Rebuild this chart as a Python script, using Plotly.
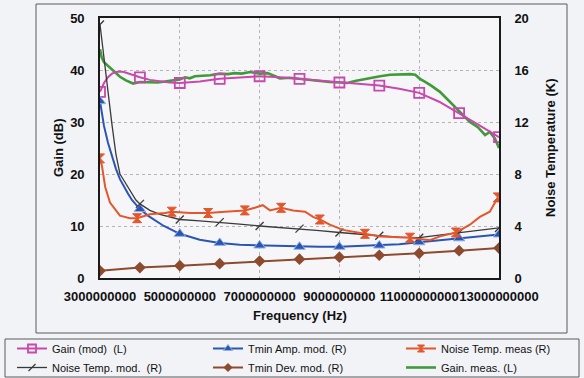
import plotly.graph_objects as go

# ---------------- data (frequency in GHz, converted to Hz for plotting) ----------------
x_tick_vals_ghz = [3, 5, 7, 9, 11, 13]
x_tick_labels = ["3000000000", "5000000000", "7000000000", "9000000000", "11000000000", "13000000000"]

model_marker_f = [3, 4, 5, 6, 7, 8, 9, 10, 11, 12, 13]

# Gain (mod) (L)
gain_mod_f = [3.0, 3.1, 3.2, 3.3, 3.4, 3.5, 3.6, 3.75, 4.0, 4.25, 4.5, 4.75, 5.0, 5.5, 6.0, 6.5,
              7.0, 7.5, 8.0, 8.5, 9.0, 9.5, 10.0, 10.5, 11.0, 11.5, 12.0, 12.5, 13.0]
gain_mod_v = [35.8, 37.5, 38.6, 39.3, 39.6, 39.7, 39.6, 39.2, 38.6, 38.1, 37.8, 37.6, 37.5, 37.8, 38.3, 38.5,
              38.8, 38.6, 38.3, 38.0, 37.6, 37.3, 37.0, 36.4, 35.6, 33.9, 31.7, 29.4, 27.1]

# Gain. meas. (L)
gain_meas_f = [3.0, 3.04, 3.1, 3.25, 3.4, 3.5, 3.65, 3.83, 4.0, 4.25, 4.45, 4.63, 4.88, 5.0, 5.13, 5.25,
               5.38, 5.55, 5.76, 6.0, 6.2, 6.38, 6.55, 6.76, 7.0, 7.2, 7.35, 7.51, 7.75, 8.01, 8.25,
               8.51, 8.75, 9.02, 9.2, 9.39, 9.52, 9.75, 10.02, 10.27, 10.5, 10.77, 10.9, 11.02, 11.15,
               11.3, 11.52, 11.77, 12.02, 12.27, 12.47, 12.65, 12.77, 12.9, 13.0]
gain_meas_v = [44.0, 42.5, 41.5, 40.4, 39.4, 38.7, 38.0, 37.4, 37.7, 37.6, 37.6, 37.8, 38.0, 38.2, 38.6, 38.4,
               38.8, 38.9, 39.0, 39.3, 39.2, 39.4, 39.3, 39.6, 39.3, 39.4, 38.9, 38.4, 38.5, 38.3, 38.0,
               37.9, 37.7, 37.6, 37.5, 37.9, 38.1, 38.5, 38.8, 39.1, 39.2, 39.2, 39.1, 38.3, 37.7,
               37.0, 35.8, 33.8, 31.8, 30.0, 29.0, 27.5, 28.1, 26.8, 25.0]

# Noise Temp. meas (R)
noise_meas_f = [3.0, 3.05, 3.13, 3.25, 3.5, 3.75, 3.93, 4.25, 4.63, 4.8, 5.26, 5.71, 6.13, 6.63, 6.88,
                7.08, 7.26, 7.54, 7.84, 8.14, 8.34, 8.51, 8.76, 9.09, 9.64, 10.02, 10.77, 11.27, 11.52,
                11.92, 12.27, 12.52, 12.77, 12.97]
noise_meas_v = [9.2, 8.6, 7.0, 5.8, 4.8, 4.6, 4.6, 4.9, 5.0, 5.1, 5.0, 5.0, 5.1, 5.2, 5.4,
                5.6, 5.2, 5.4, 5.2, 5.1, 4.7, 4.5, 4.1, 3.7, 3.4, 3.2, 3.1, 2.9, 3.2,
                3.5, 4.1, 4.7, 5.1, 6.2]
noise_meas_marker_f = [3.0, 3.93, 4.8, 5.71, 6.63, 7.54, 8.51, 9.64, 10.77, 11.92, 12.97]

# Noise Temp. mod. (R)
noise_mod_f = [3.0, 3.1, 3.2, 3.3, 3.4, 3.5, 3.6, 3.7, 3.8, 3.9, 4.0, 4.25, 4.5, 5.0, 5.5, 6.0, 6.5,
               7.0, 7.5, 8.0, 8.5, 9.0, 9.5, 10.0, 10.5, 11.0, 11.5, 12.0, 12.5, 13.0]
noise_mod_v = [19.5, 16.8, 14.2, 11.8, 9.5, 8.0, 7.5, 7.0, 6.5, 6.0, 5.7, 5.2, 4.9, 4.5, 4.4, 4.3, 4.15,
               4.0, 3.9, 3.8, 3.65, 3.5, 3.35, 3.25, 3.15, 3.1, 3.3, 3.5, 3.65, 3.85]

# Tmin Amp. mod. (R)
tmin_amp_f = [3.0, 3.1, 3.2, 3.3, 3.4, 3.5, 3.6, 3.7, 3.8, 4.0, 4.2, 4.4, 4.6, 4.8, 5.0, 5.5, 6.0,
              6.5, 7.0, 7.5, 8.0, 8.5, 9.0, 9.5, 10.0, 10.5, 11.0, 11.5, 12.0, 12.5, 13.0]
tmin_amp_v = [13.6, 11.7, 10.4, 9.3, 8.4, 7.6, 7.0, 6.5, 6.0, 5.3, 4.8, 4.4, 4.0, 3.7, 3.4, 2.95, 2.7,
              2.55, 2.5, 2.45, 2.4, 2.4, 2.4, 2.45, 2.5, 2.6, 2.75, 2.9, 3.05, 3.2, 3.35]

# Tmin Dev. mod. (R)
tmin_dev_f = [3, 4, 5, 6, 7, 8, 9, 10, 11, 12, 13]
tmin_dev_v = [0.55, 0.8, 0.95, 1.1, 1.3, 1.45, 1.6, 1.75, 1.9, 2.1, 2.3]

# ---------------- figure ----------------
FONT = "Liberation Sans, Arial, sans-serif"
fig = go.Figure()


def hz(lst):
    return [f * 1e9 for f in lst]


def add_series(f, v, mark_f, color, lw, yaxis, marker):
    fig.add_trace(go.Scatter(x=hz(f), y=v, mode="lines", yaxis=yaxis,
                             line=dict(color=color, width=lw), showlegend=False, hoverinfo="skip"))
    if mark_f:
        sel = [i for i, fi in enumerate(f) if any(abs(fi - m) < 1e-6 for m in mark_f)]
        fig.add_trace(go.Scatter(x=hz([f[i] for i in sel]), y=[v[i] for i in sel], mode="markers",
                                 yaxis=yaxis, marker=marker, showlegend=False, hoverinfo="skip"))


C_PINK = "#c848ac"
C_GREEN = "#3f9a3a"
C_BLUE = "#2b55b3"
C_ORANGE = "#e2572c"
C_BLACK = "#3a3a3a"
C_BROWN = "#8c4b2e"


def mk_pink(s):
    return dict(symbol="square-open", size=s, color=C_PINK, line=dict(color=C_PINK, width=1.8))


def mk_blue(s):
    return dict(symbol="triangle-up", size=s, color=C_BLUE, line=dict(color="#8fb0e8", width=1))


def mk_orange(s):
    return dict(symbol="hourglass", size=s, color=C_ORANGE, line=dict(color=C_ORANGE, width=1))


def mk_black(s):
    return dict(symbol="line-ne", size=s, color=C_BLACK, line=dict(color=C_BLACK, width=1.3))


def mk_brown(s):
    return dict(symbol="diamond", size=s, color=C_BROWN, line=dict(color=C_BROWN, width=0))


add_series(gain_meas_f, gain_meas_v, None, C_GREEN, 2.6, "y", None)
add_series(gain_mod_f, gain_mod_v, model_marker_f, C_PINK, 2, "y", mk_pink(10))
add_series(tmin_dev_f, tmin_dev_v, model_marker_f, C_BROWN, 2, "y2", mk_brown(9))
add_series(tmin_amp_f, tmin_amp_v, model_marker_f, C_BLUE, 2, "y2", mk_blue(10))
add_series(noise_mod_f, noise_mod_v, model_marker_f, C_BLACK, 1.3, "y2", mk_black(8))
add_series(noise_meas_f, noise_meas_v, noise_meas_marker_f, C_ORANGE, 2, "y2", mk_orange(9))

# legend entries (style samples only)
legend_entries = [
    ("Gain (mod)  (L)", C_PINK, 2, mk_pink(8), "legend"),
    ("Noise Temp. mod.  (R)", C_BLACK, 1.3, mk_black(7), "legend"),
    ("Tmin Amp. mod. (R)", C_BLUE, 2, mk_blue(8), "legend2"),
    ("Tmin Dev. mod. (R)", C_BROWN, 2, mk_brown(7), "legend2"),
    ("Noise Temp. meas (R)", C_ORANGE, 2, mk_orange(7), "legend3"),
    ("Gain. meas. (L)", C_GREEN, 2.6, None, "legend3"),
]
for name, col, lw, mk, lg in legend_entries:
    fig.add_trace(go.Scatter(x=[None], y=[None], name=name, legend=lg,
                             mode="lines+markers" if mk else "lines",
                             line=dict(color=col, width=lw), marker=mk if mk else None))

# geometry helpers (plot area 100..499 x 18..278 px)
L, R, T, B = 100, 499, 18, 278
W, H = R - L, B - T


def px(xp):
    return (xp - L) / W


def py(yp):
    return (B - yp) / H


tickfont = dict(family=FONT, size=13, color="#111", weight="bold")
grid = dict(showgrid=True, gridcolor="#b4b4b8", griddash="dot", gridwidth=1)
leg_common = dict(yanchor="top", xanchor="left", bgcolor="rgba(0,0,0,0)",
                  font=dict(size=11), tracegroupgap=0, itemwidth=30)

fig.update_layout(
    width=584, height=378,
    margin=dict(l=L, r=584 - R, t=T, b=378 - B, autoexpand=False),
    paper_bgcolor="#f2f3f7", plot_bgcolor="#f6f6f9",
    font=dict(family=FONT, size=11, color="#111"),
    xaxis=dict(range=[3e9, 13e9], tickvals=hz(x_tick_vals_ghz), ticktext=x_tick_labels, tickangle=0,
               showline=True, linecolor="#1a1a1a", linewidth=1.6, mirror=True, ticks="",
               tickfont=tickfont, ticklabelstandoff=6, zeroline=False, **grid),
    yaxis=dict(range=[0, 50], tickvals=[0, 10, 20, 30, 40, 50], showline=True, linecolor="#1a1a1a",
               linewidth=1.6, mirror=True, ticks="", tickfont=tickfont, ticklabelstandoff=11,
               zeroline=False, **grid),
    yaxis2=dict(range=[0, 20], tickvals=[0, 4, 8, 12, 16, 20], overlaying="y", side="right",
                showgrid=False, showline=True, linecolor="#1a1a1a", linewidth=1.6, ticks="",
                tickfont=tickfont, ticklabelstandoff=11, zeroline=False),
    legend=dict(x=px(12), y=py(334), **leg_common),
    legend2=dict(x=px(208), y=py(334), **leg_common),
    legend3=dict(x=px(401), y=py(334), **leg_common),
    shapes=[
        dict(type="rect", xref="paper", yref="paper", x0=px(36), x1=px(567), y0=py(333), y1=py(4),
             line=dict(color="#5a5a5a", width=1), layer="below"),
        dict(type="rect", xref="paper", yref="paper", x0=px(5), x1=px(579), y0=py(377), y1=py(339),
             line=dict(color="#5a5a5a", width=1), layer="below"),
    ],
    annotations=[
        dict(text="Gain (dB)", xref="paper", yref="paper", x=px(58), y=0.5, textangle=-90,
             showarrow=False, xanchor="center", yanchor="middle",
             font=dict(family=FONT, size=13, weight="bold", color="#111")),
        dict(text="Noise Temperature (K)", xref="paper", yref="paper", x=px(550), y=0.5, textangle=-90,
             showarrow=False, xanchor="center", yanchor="middle",
             font=dict(family=FONT, size=13, weight="bold", color="#111")),
        dict(text="Frequency (Hz)", xref="paper", yref="paper", x=0.5, y=py(315),
             showarrow=False, xanchor="center", yanchor="middle",
             font=dict(family=FONT, size=13, weight="bold", color="#111")),
    ],
)

fig.write_html("out.html")
